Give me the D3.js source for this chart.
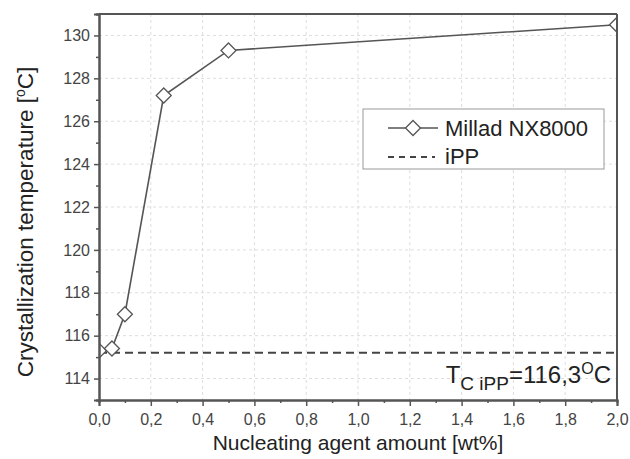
<!DOCTYPE html>
<html>
<head>
<meta charset="utf-8">
<script src="https://cdn.jsdelivr.net/npm/d3@7"></script>
<style>
  body { margin: 0; background: #fff; }
  svg { display: block; font-family: "Liberation Sans", Arial, sans-serif; }
</style>
</head>
<body>
<svg id="chart"></svg>
<script>
// Data
const amount = [0, 0.05, 0.1, 0.25, 0.5, 2.0];
const tc = [115.3, 115.4, 117.0, 127.2, 129.3, 130.5];
const ippLevel = 115.2;
const xTicks = [0, 0.2, 0.4, 0.6, 0.8, 1.0, 1.2, 1.4, 1.6, 1.8, 2.0];
const yTicks = [114, 116, 118, 120, 122, 124, 126, 128, 130];
const seriesNames = ["Millad NX8000", "iPP"];

const width = 630;
const height = 459;
const margin = { top: 14, right: 13, bottom: 59, left: 99 };
const innerW = width - margin.left - margin.right;
const innerH = height - margin.top - margin.bottom;

const svg = d3.select("#chart").attr("width", width).attr("height", height);
const g = svg.append("g").attr("transform", `translate(${margin.left},${margin.top})`);

const x = d3.scaleLinear().domain([0, 2]).range([0, innerW]);
const y = d3.scaleLinear().domain([113, 131]).range([innerH, 0]);

const axisColor = "#555";
const textColor = "#444";

// grid
g.append("g")
  .selectAll("line")
  .data(xTicks.slice(1, -1))
  .join("line")
  .attr("x1", (d) => x(d)).attr("x2", (d) => x(d))
  .attr("y1", 0).attr("y2", innerH)
  .attr("stroke", "#ddd").attr("stroke-dasharray", "3,3");
g.append("g")
  .selectAll("line")
  .data(yTicks)
  .join("line")
  .attr("x1", 0).attr("x2", innerW)
  .attr("y1", (d) => y(d)).attr("y2", (d) => y(d))
  .attr("stroke", "#ddd").attr("stroke-dasharray", "3,3");

// clip for the data
svg.append("clipPath").attr("id", "plot-clip")
  .append("rect").attr("width", innerW).attr("height", innerH);

const plot = g.append("g").attr("clip-path", "url(#plot-clip)");

// iPP reference line
plot.append("line")
  .attr("x1", x(0)).attr("x2", x(2))
  .attr("y1", y(ippLevel)).attr("y2", y(ippLevel))
  .attr("stroke", "#444").attr("stroke-width", 2)
  .attr("stroke-dasharray", "8,5");

// series line
const pts = amount.map((a, i) => [a, tc[i]]);
const line = d3.line().x((d) => x(d[0])).y((d) => y(d[1]));
plot.append("path")
  .datum(pts)
  .attr("d", line)
  .attr("fill", "none")
  .attr("stroke", "#555")
  .attr("stroke-width", 1.6);

const diamond = "M0,-7.5L7.5,0L0,7.5L-7.5,0Z";
plot.selectAll(".mk")
  .data(pts)
  .join("path")
  .attr("class", "mk")
  .attr("d", diamond)
  .attr("transform", (d) => `translate(${x(d[0])},${y(d[1])})`)
  .attr("fill", "#fff")
  .attr("stroke", "#555")
  .attr("stroke-width", 1.3);

// axes
const xAxis = g.append("g")
  .attr("transform", `translate(0,${innerH})`)
  .call(d3.axisBottom(x).tickValues(xTicks).tickSize(6).tickPadding(8)
    .tickFormat((d) => d3.format(".1f")(d).replace(".", ",")));
const xMinor = g.append("g")
  .attr("transform", `translate(0,${innerH})`)
  .call(d3.axisBottom(x).tickValues(d3.range(0.1, 2, 0.2)).tickSize(3).tickFormat(""));

const yAxis = g.append("g")
  .call(d3.axisLeft(y).tickValues(yTicks).tickSize(5).tickPadding(4));
const yMinor = g.append("g")
  .call(d3.axisLeft(y).tickValues(d3.range(113, 132, 2)).tickSize(3).tickFormat(""));

[xAxis, xMinor, yAxis, yMinor].forEach((a) => {
  a.select(".domain").attr("stroke", axisColor).attr("stroke-width", 2);
  a.selectAll(".tick line").attr("stroke", axisColor).attr("stroke-width", 1.5);
  a.selectAll("text").attr("fill", textColor).attr("font-size", 16)
    .attr("font-family", "Liberation Sans, Arial, sans-serif");
});

// frame top & right
g.append("line").attr("x1", 0).attr("x2", innerW).attr("y1", 0).attr("y2", 0)
  .attr("stroke", axisColor).attr("stroke-width", 2);
g.append("line").attr("x1", innerW).attr("x2", innerW).attr("y1", 0).attr("y2", innerH)
  .attr("stroke", axisColor).attr("stroke-width", 2);

// axis titles
svg.append("text")
  .attr("x", margin.left + innerW / 2)
  .attr("y", 450)
  .attr("text-anchor", "middle")
  .attr("font-size", 21)
  .attr("fill", "#222")
  .text("Nucleating agent amount [wt%]");

const yt = svg.append("text")
  .attr("transform", "translate(33,222) rotate(-90)")
  .attr("text-anchor", "middle")
  .attr("font-size", 22.5)
  .attr("fill", "#222");
yt.append("tspan").text("Crystallization temperature [");
yt.append("tspan").attr("font-size", 14).attr("dy", -8).text("o");
yt.append("tspan").attr("dy", 8).text("C]");

// legend
const lg = g.append("g").attr("transform", "translate(264,95)");
lg.append("rect")
  .attr("width", 241).attr("height", 60)
  .attr("fill", "#fff").attr("stroke", "#999").attr("stroke-width", 1);
lg.append("line").attr("x1", 25).attr("x2", 75).attr("y1", 19).attr("y2", 19)
  .attr("stroke", "#555").attr("stroke-width", 1.6);
lg.append("path").attr("d", diamond).attr("transform", "translate(50,19)")
  .attr("fill", "#fff").attr("stroke", "#555").attr("stroke-width", 1.3);
lg.append("line").attr("x1", 25).attr("x2", 72).attr("y1", 48).attr("y2", 48)
  .attr("stroke", "#444").attr("stroke-width", 1.8).attr("stroke-dasharray", "6,5");
lg.selectAll(".lt")
  .data(seriesNames)
  .join("text")
  .attr("class", "lt")
  .attr("x", 82)
  .attr("y", (d, i) => 27 + i * 28)
  .attr("font-size", 22)
  .attr("fill", "#222")
  .text((d) => d);

// annotation
const ann = svg.append("text")
  .attr("x", 611).attr("y", 383)
  .attr("text-anchor", "end")
  .attr("font-size", 24)
  .attr("fill", "#222");
ann.append("tspan").text("T");
ann.append("tspan").attr("font-size", 19).attr("dy", 7).text("C iPP");
ann.append("tspan").attr("dy", -7).text("=116,3");
ann.append("tspan").attr("font-size", 16).attr("dy", -9).text("O");
ann.append("tspan").attr("dy", 9).text("C");
</script>
</body>
</html>
